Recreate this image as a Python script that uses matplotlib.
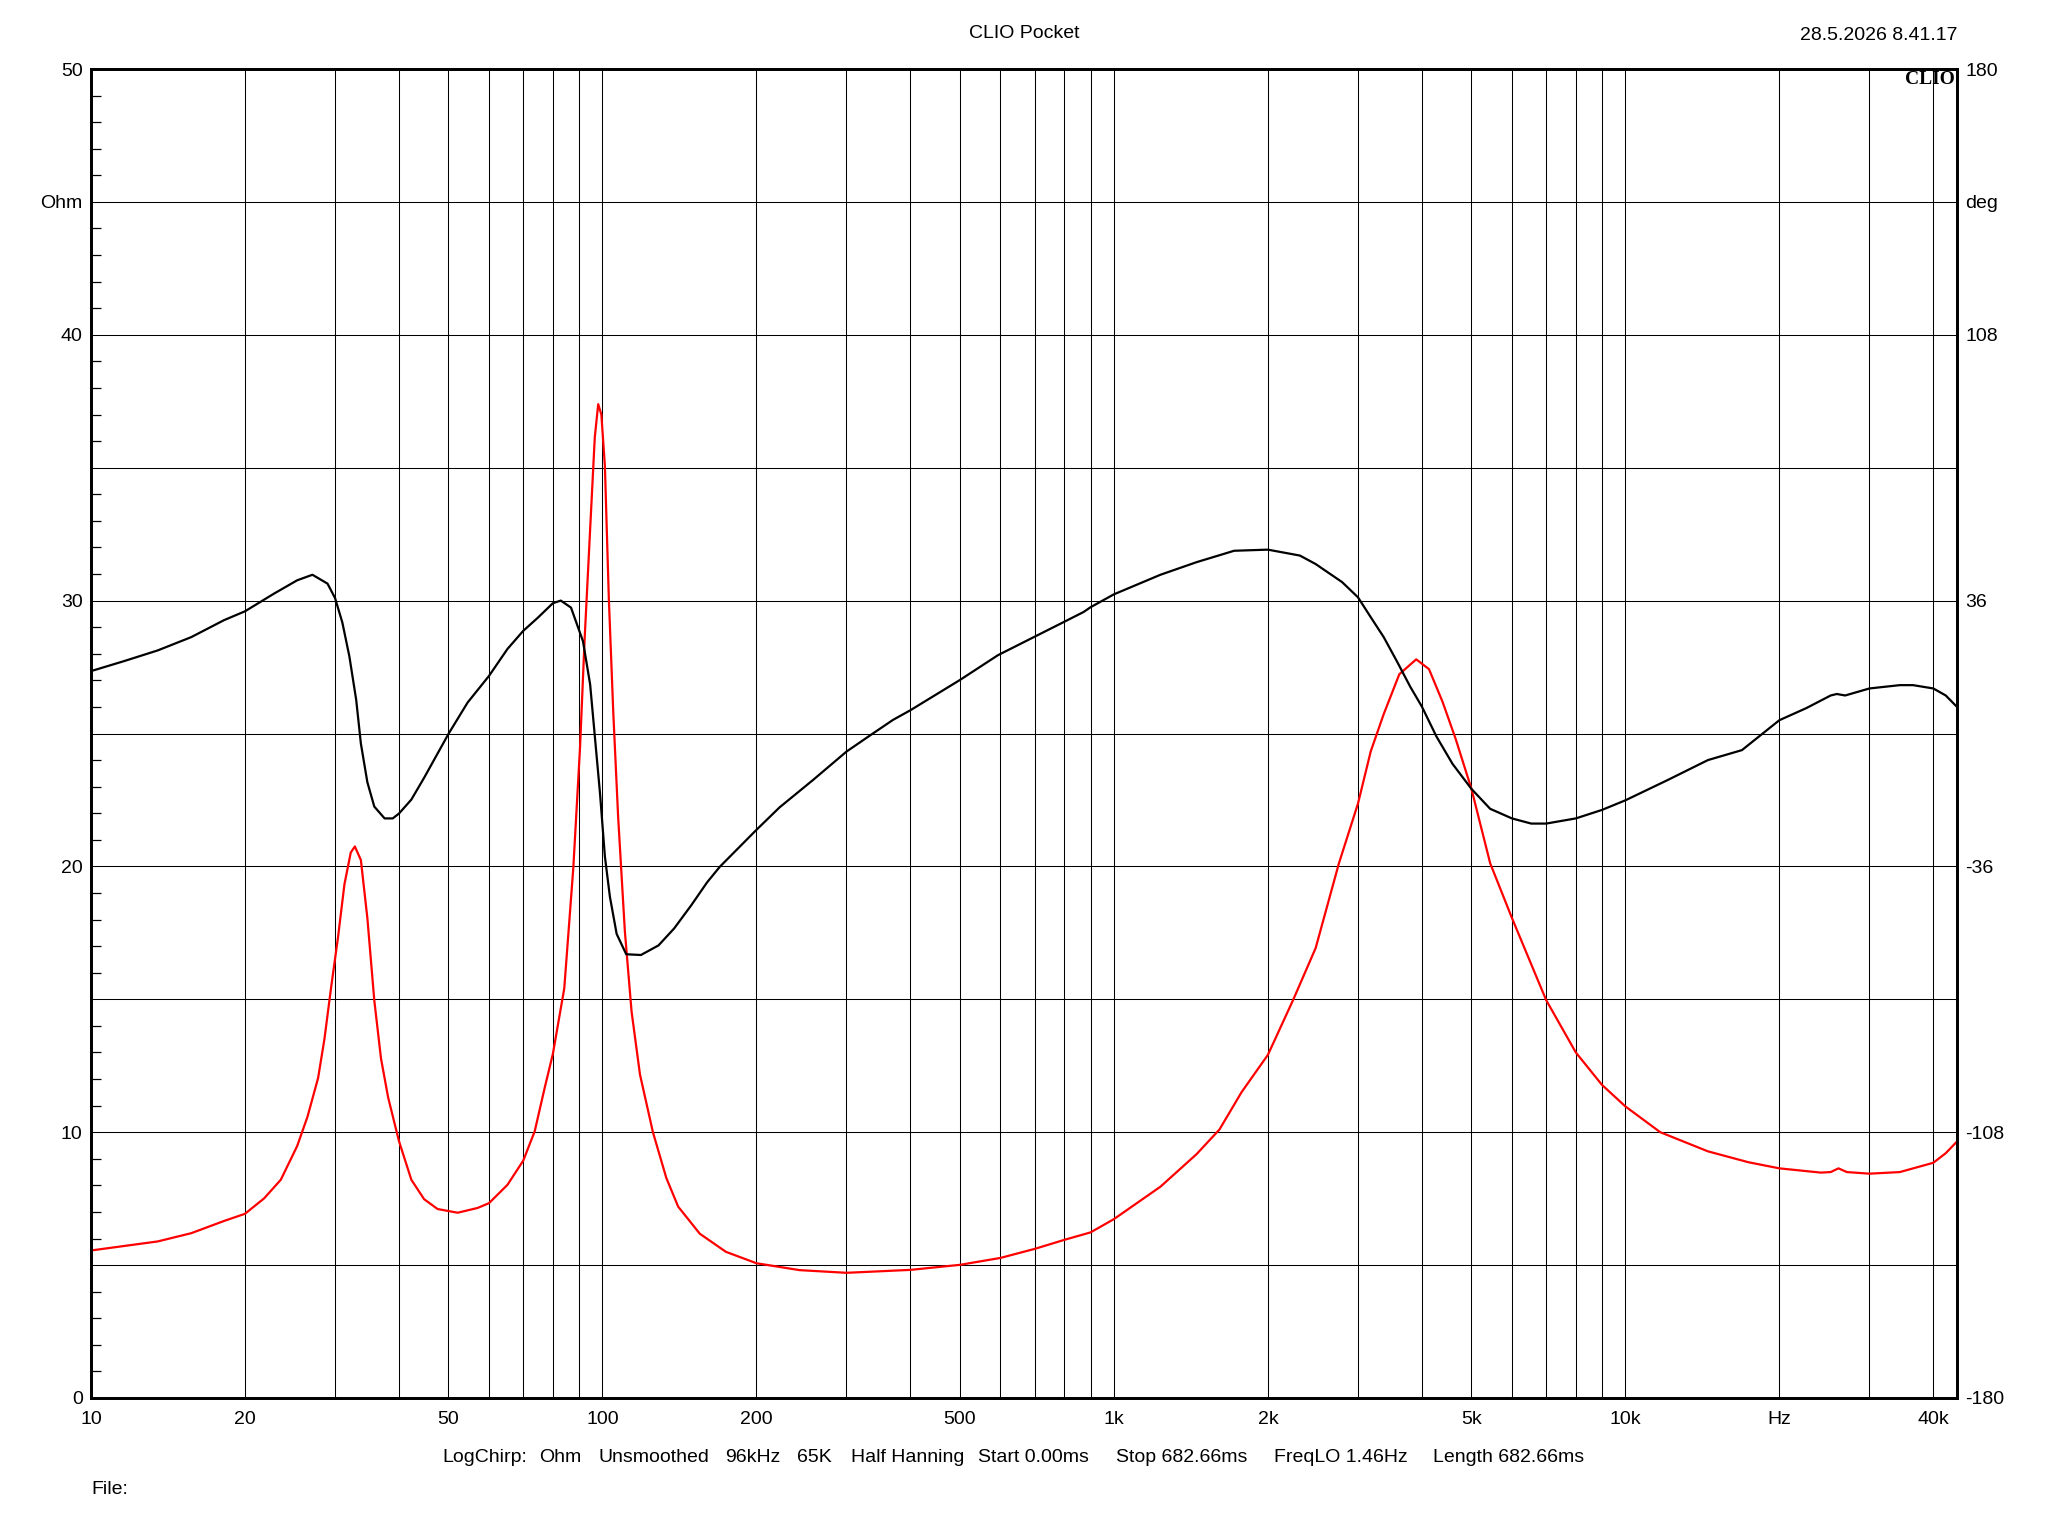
import matplotlib
matplotlib.use("Agg")
import matplotlib.pyplot as plt
from matplotlib.ticker import NullLocator, FixedLocator

# CLIO Pocket - impedance (Ohm, red) and phase (deg, black)

# impedance modulus
freq_ohm = [10, 13.5, 15.7, 18.2, 20, 21.8, 23.5, 25.3, 26.5, 27.8, 28.6, 29.5, 30.4, 31.3,
            32.2, 32.8, 33.7, 34.7, 35.8, 36.9, 38.1, 40, 42.3, 44.8, 47.6, 52.1, 57, 60,
            65.2, 70, 73.7, 77.1, 80, 84.2, 87.7, 90.4, 92.3, 94.6, 96.6, 98.1, 99.5, 101.1,
            102.9, 105, 107.3, 110.6, 114, 118.4, 125.5, 133.3, 140.6, 155, 174.3, 200, 243,
            300, 400, 500, 600, 700, 800, 900, 1000, 1233, 1450, 1608, 1777, 2000, 2240,
            2480, 2754, 3000, 3178, 3369, 3614, 3900, 4131, 4389, 4657, 5000, 5440, 6000,
            7000, 8000, 9000, 10000, 11700, 14500, 17400, 20000, 24100, 25200, 26100, 27100,
            30000, 34400, 40000, 42300, 44500]
ohm = [5.55, 5.89, 6.2, 6.66, 6.93, 7.51, 8.21, 9.48, 10.58, 12.04, 13.5, 15.5, 17.32, 19.33,
       20.52, 20.75, 20.24, 18.06, 14.96, 12.77, 11.31, 9.67, 8.21, 7.48, 7.11, 6.97, 7.15, 7.33,
       8.02, 8.93, 10.03, 11.67, 12.95, 15.41, 19.94, 24.48, 28.58, 32.68, 36.14, 37.39, 37.0, 35.06,
       30.1, 25.77, 21.88, 17.57, 14.54, 12.17, 10.0, 8.28, 7.2, 6.18, 5.5, 5.07, 4.81,
       4.71, 4.82, 5.01, 5.27, 5.61, 5.95, 6.23, 6.73, 7.95, 9.17, 10.1, 11.51, 12.91, 14.97,
       16.93, 20.12, 22.36, 24.33, 25.73, 27.23, 27.79, 27.42, 26.2, 24.8, 22.92, 20.12, 18.06,
       14.97, 13.0, 11.78, 10.97, 10.0, 9.28, 8.87, 8.64, 8.48, 8.5, 8.64, 8.5,
       8.44, 8.5, 8.85, 9.21, 9.65]

# phase
freq_deg = [10, 11.6, 13.5, 15.7, 18.2, 20, 22.8, 25.3, 27.1, 29, 30, 31, 32, 33, 33.7, 34.7,
            35.8, 37.5, 38.9, 40, 42.3, 44.8, 50, 54.5, 60, 65.2, 70, 74.8, 80, 82.9, 86.8,
            91.6, 94.6, 96.6, 98.9, 101.1, 103.4, 106.6, 111.3, 118.9, 128.7, 138.1, 149.2,
            160.2, 169.6, 200, 222, 258, 300, 337, 370, 400, 500, 593, 697, 798, 872, 900, 1000,
            1233, 1450, 1718, 2000, 2310, 2480, 2794, 3000, 3178, 3369, 3580, 3795, 4000, 4271,
            4591, 5000, 5440, 6000, 6545, 7000, 8000, 9000, 10000, 12100, 14500, 16900, 20000,
            22600, 25200, 25900, 26900, 30000, 34400, 36500, 40000, 42300, 44500]
deg = [16.9, 19.6, 22.5, 26.1, 30.7, 33.1, 37.9, 41.5, 43.0, 40.6, 36.7, 30.1, 20.9, 9.1, -2.7, -13.2,
       -19.8, -23.0, -23.0, -21.7, -17.9, -12.0, -0.1, 8.4, 15.6, 22.9, 27.8, 31.4, 35.3, 36.0, 34.1,
       25.0, 13.3, -0.6, -16.2, -33.3, -44.2, -54.3, -59.8, -60.0, -57.4, -52.8, -46.5,
       -40.3, -36.1, -26.1, -20.0, -12.6, -4.9, -0.1, 3.7, 6.3, 14.5, 21.2, 26.1, 30.2, 32.9, 34.2, 37.7,
       43.0, 46.4, 49.5, 49.8, 48.2, 45.9, 41.0, 36.9, 31.5, 26.1, 19.4, 12.7, 7.3, -0.8,
       -8.2, -15.0, -20.4, -23.0, -24.4, -24.4, -23.0, -20.7, -18.1, -12.6, -7.2, -4.5, 3.6,
       6.9, 10.3, 10.7, 10.3, 12.2, 13.1, 13.1, 12.2, 10.3, 7.2]

x_ticks = [10, 20, 50, 100, 200, 500, 1000, 2000, 5000, 10000, 20000, 40000]
x_labels = ['10', '20', '50', '100', '200', '500', '1k', '2k', '5k', '10k', 'Hz', '40k']
x_grid = [20, 30, 40, 50, 60, 70, 80, 90, 100, 200, 300, 400, 500, 600, 700, 800, 900, 1000,
          2000, 3000, 4000, 5000, 6000, 7000, 8000, 9000, 10000, 20000, 30000, 40000]
y_ticks = [0, 10, 20, 30, 40, 45, 50]
y_labels = ['0', '10', '20', '30', '40', 'Ohm', '50']
r_ticks = [-180, -108, -36, 36, 108, 144, 180]
r_labels = ['-180', '-108', '-36', '36', '108', 'deg', '180']

info = ['LogChirp:', 'Ohm', 'Unsmoothed', '96kHz', '65K', 'Half Hanning', 'Start 0.00ms',
        'Stop 682.66ms', 'FreqLO 1.46Hz', 'Length 682.66ms']
info_x = [442, 539, 598, 725, 797, 851, 978, 1116, 1274, 1433]

plt.rcParams['font.family'] = ['Liberation Sans', 'DejaVu Sans']
plt.rcParams['font.size'] = 14

W, H = 2048, 1536
fig = plt.figure(figsize=(W / 100, H / 100), dpi=100)
L, R, T, B = 91, 1957, 69, 1398
ax = fig.add_axes([L / W, 1 - B / H, (R - L) / W, (B - T) / H])

ax.set_xscale('log')
ax.set_xlim(10, 44500)
ax.set_ylim(0, 50)

# grid
for g in range(5, 50, 5):
    ax.axhline(g, color='black', lw=0.75, zorder=1)
for g in x_grid:
    ax.axvline(g, color='black', lw=0.75, zorder=1)

ax.plot(freq_ohm, ohm, color='#ff0000', lw=1.6, zorder=3)

ax.xaxis.set_major_locator(FixedLocator(x_ticks))
ax.set_xticklabels(x_labels)
ax.xaxis.set_minor_locator(NullLocator())
ax.tick_params(axis='x', length=0, pad=9)

ax.set_yticks(y_ticks)
ax.set_yticklabels(y_labels)
ax.yaxis.set_minor_locator(FixedLocator([v for v in range(1, 50) if v % 5 != 0]))
ax.tick_params(axis='y', which='major', length=0, pad=6)
ax.tick_params(axis='y', which='minor', direction='in', length=7, width=0.9,
               left=True, right=True)

ax2 = ax.twinx()
ax2.set_ylim(-180, 180)
ax2.plot(freq_deg, deg, color='black', lw=1.6, zorder=4)
ax2.set_yticks(r_ticks)
ax2.set_yticklabels(r_labels)
ax2.tick_params(axis='y', length=0, pad=6)

for a in (ax, ax2):
    for s in a.spines.values():
        s.set_linewidth(2.0)

# texts round the plot
fig.text(1024 / W, 1 - 34 / H, 'CLIO Pocket', ha='center', va='center')
fig.text(1957 / W, 1 - 35 / H, '28.5.2026 8.41.17', ha='right', va='center')
fig.text(1955 / W, 1 - 79 / H, 'CLIO', ha='right', va='center', fontweight='bold',
         family='Liberation Serif', fontsize=14)
for s, x in zip(info, info_x):
    fig.text(x / W, 1 - 1457 / H, s, ha='left', va='center')
fig.text(91 / W, 1 - 1490 / H, 'File:', ha='left', va='center')

plt.savefig('out.png', dpi=100)
